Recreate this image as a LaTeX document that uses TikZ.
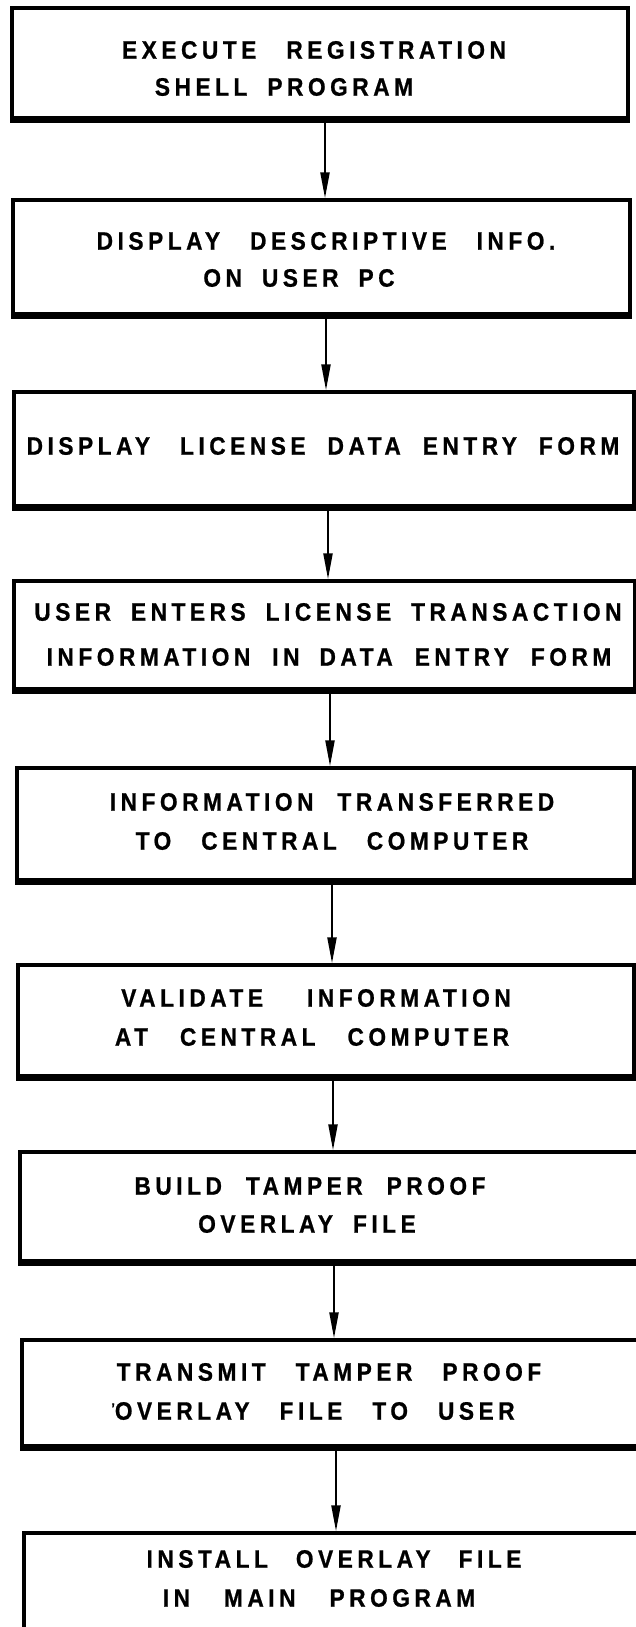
\documentclass[tikz,border=0pt]{standalone}
\usepackage{fontspec}
\newfontfamily\lab[LetterSpace=18,FakeStretch=0.9,FakeBold=0.8]{Liberation Sans Bold}
\usetikzlibrary{arrows.meta}
\newcommand\gs{\hspace{11pt}}
\newcommand\gm{\hspace{10pt}}
\newcommand\gd{\hspace{15pt}}
\newcommand\gt{\hspace{15pt}}
\tikzset{
  box/.style={draw, line width=1.7pt, inner sep=0pt},
  txt/.style={font=\lab\fontsize{12.6}{14}\selectfont, inner sep=0pt, anchor=center},
  arr/.style={line width=1.1pt, -{Triangle[length=13pt,width=4.5pt]}},
  base/.style={line width=3.2pt}
}
\begin{document}
\begin{tikzpicture}[x=0.5pt,y=-0.5pt]
\useasboundingbox (0,0) rectangle (636,1627);
% boxes
\node[box, minimum width=308pt,   minimum height=55pt]   (b1) at (320,63) {};
\node[box, minimum width=308.5pt, minimum height=57pt]   (b2) at (321.5,257) {};
\node[box, minimum width=310pt,   minimum height=57pt]   (b3) at (324,449) {};
\node[box, minimum width=310.5pt, minimum height=54pt]   (b4) at (324.5,635) {};
\node[box, minimum width=308.5pt, minimum height=56pt]   (b5) at (325.5,824) {};
\node[box, minimum width=308pt,   minimum height=55.5pt] (b6) at (326,1020.5) {};
\node[box, minimum width=312.5pt, minimum height=54.5pt] (b7) at (332.5,1206.5) {};
\node[box, minimum width=311.5pt, minimum height=53pt]   (b8) at (333.5,1393) {};
\node[box, minimum width=310.5pt, minimum height=56pt]   (b9) at (334.5,1589) {};
% thick bottom edges
\foreach \b in {b1,b2,b3,b4,b5,b6,b7,b8}
  \draw[base] (\b.south west) -- (\b.south east);
% texts
\node[txt] (t1a) at (314,50)  {EXECUTE\gt REGISTRATION};
\node[txt] (t1b) at (284,87)  {SHELL\gm PROGRAM};
\node[txt] (t2a) at (326,241) {DISPLAY\gd DESCRIPTIVE\gd INFO.};
\node[txt] (t2b) at (299,278) {ON\gm USER\gm PC};
\node[txt] (t3a) at (323,446) {DISPLAY\gd LICENSE\gs DATA\gs ENTRY\gs FORM};
\node[txt] (t4a) at (328,612) {USER\gm ENTERS\gm LICENSE\gm TRANSACTION};
\node[txt] (t4b) at (329,657) {INFORMATION\gs IN\gm DATA\gs ENTRY\gs FORM};
\node[txt] (t5a) at (332,802) {INFORMATION\hspace{12pt}TRANSFERRED};
\node[txt] (t5b) at (332,841) {TO\gd CENTRAL\gd COMPUTER};
\node[txt] (t6a) at (316,998) {VALIDATE\hspace{22pt}INFORMATION};
\node[txt] (t6b) at (312,1037) {AT\hspace{16pt}CENTRAL\hspace{16pt}COMPUTER};
\node[txt] (t7a) at (310,1186) {BUILD\hspace{12pt}TAMPER\hspace{12pt}PROOF};
\node[txt] (t7b) at (307,1224) {OVERLAY\gm FILE};
\node[txt] (t8a) at (329,1372) {TRANSMIT\gd TAMPER\gd PROOF};
\node[txt] (t8b) at (313,1411) {\raisebox{0.5ex}{\fontsize{7}{7}\selectfont\char"2019}OVERLAY\gd FILE\gd TO\gd USER};
\node[txt] (t9a) at (334,1559) {INSTALL\hspace{14pt}OVERLAY\hspace{14pt}FILE};
\node[txt] (t9b) at (319,1598) {IN\hspace{17pt}MAIN\hspace{17pt}PROGRAM};
% arrow x positions
\coordinate (x1) at (325,0);
\coordinate (x2) at (326,0);
\coordinate (x3) at (328,0);
\coordinate (x4) at (330,0);
\coordinate (x5) at (332,0);
\coordinate (x6) at (333,0);
\coordinate (x7) at (334,0);
\coordinate (x8) at (336,0);
\draw[arr] (b1.south -| x1) -- (b2.north -| x1);
\draw[arr] (b2.south -| x2) -- (b3.north -| x2);
\draw[arr] (b3.south -| x3) -- (b4.north -| x3);
\draw[arr] (b4.south -| x4) -- (b5.north -| x4);
\draw[arr] (b5.south -| x5) -- (b6.north -| x5);
\draw[arr] (b6.south -| x6) -- (b7.north -| x6);
\draw[arr] (b7.south -| x7) -- (b8.north -| x7);
\draw[arr] (b8.south -| x8) -- (b9.north -| x8);
\end{tikzpicture}
\end{document}
